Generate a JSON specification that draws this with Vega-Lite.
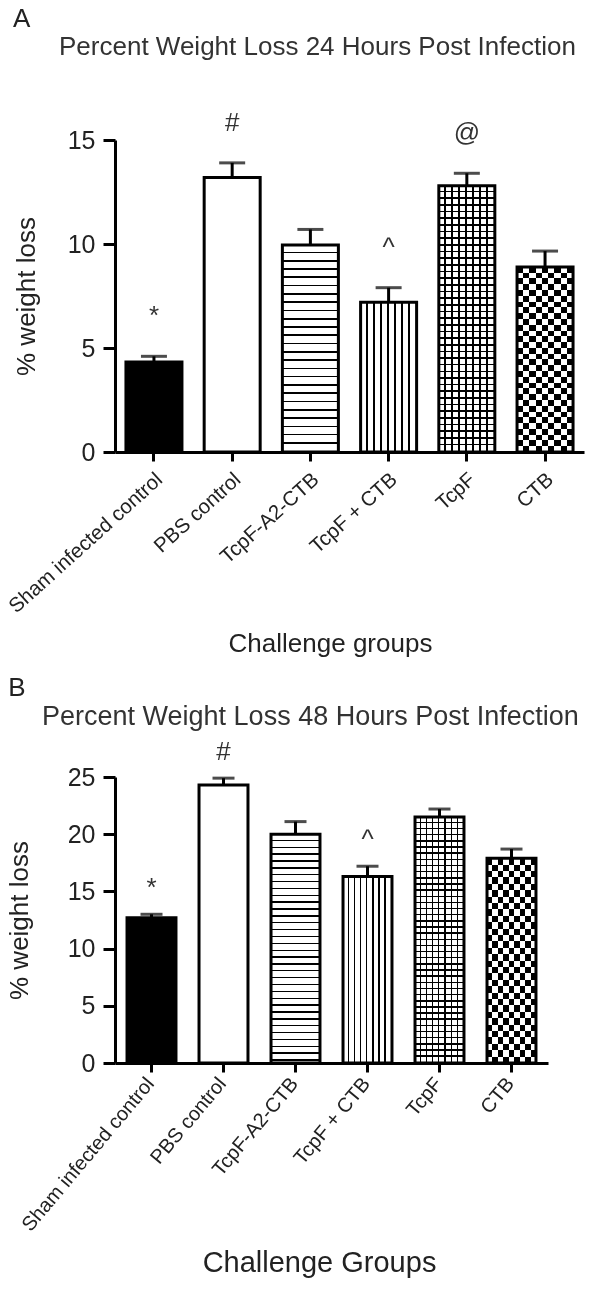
{
"$schema":"https://vega.github.io/schema/vega-lite/v6.json",
"background":"white",
"padding":{"left":5,"top":5,"right":5,"bottom":5},
"config":{"font":"Liberation Sans","view":{"stroke":null},
 "axis":{"domainColor":"black","domainWidth":3,"tickColor":"black","tickWidth":3,"labelColor":"#222","titleColor":"#222","titleFontWeight":"normal","grid":false,"labelFont":"Liberation Sans","titleFont":"Liberation Sans"},
 "axisY":{"tickSize":12,"labelFontSize":25,"titleFontSize":26,"labelPadding":8,"titlePadding":28},
 "axisX":{"tickSize":9,"labelFontSize":20.5,"labelAngle":-42,"titleFontSize":26,"titlePadding":14,"labelPadding":8,"labelOffset":-1,"labelLimit":400}
},
"datasets":{
 "h24":[
  {"group":"Sham infected control","mean":4.33,"upper":4.6,"annot":"*"},
  {"group":"PBS control","mean":13.2,"upper":13.9,"annot":"#"},
  {"group":"TcpF-A2-CTB","mean":9.95,"upper":10.7,"annot":""},
  {"group":"TcpF + CTB","mean":7.2,"upper":7.9,"annot":"^"},
  {"group":"TcpF","mean":12.8,"upper":13.4,"annot":"@"},
  {"group":"CTB","mean":8.9,"upper":9.66,"annot":""}
 ],
 "h48":[
  {"group":"Sham infected control","mean":12.7,"upper":13.0,"annot":"*"},
  {"group":"PBS control","mean":24.3,"upper":24.9,"annot":"#"},
  {"group":"TcpF-A2-CTB","mean":20.0,"upper":21.1,"annot":""},
  {"group":"TcpF + CTB","mean":16.3,"upper":17.2,"annot":"^"},
  {"group":"TcpF","mean":21.5,"upper":22.2,"annot":""},
  {"group":"CTB","mean":17.9,"upper":18.7,"annot":""}
 ]
},
"spacing":18,
"vconcat":[
{
 "title":{"text":"A","anchor":"start","fontSize":26,"fontWeight":"normal","color":"#222","offset":2,"dx":8},
 "vconcat":[{
  "width":469,"height":312,
  "data":{"name":"h24"},
  "title":{"text":"Percent Weight Loss 24 Hours Post Infection","anchor":"start","frame":"group","dx":-56,"fontSize":26,"fontWeight":"normal","color":"#333","offset":50},
  "encoding":{
   "x":{"field":"group","type":"nominal","scale":{"domain":["Sham infected control","PBS control","TcpF-A2-CTB","TcpF + CTB","TcpF","CTB"],"paddingInner":0.284,"paddingOuter":0.14},"axis":{"title":"Challenge groups","titleX":215}},
   "y":{"field":"mean","type":"quantitative","scale":{"domain":[0,15],"nice":false},"axis":{"values":[0,5,10,15]},"title":"% weight loss"}
  },
  "layer":[
   {"mark":{"type":"bar"},"encoding":{"fill":{"condition":{"test":"datum.group === 'Sham infected control'","value":"black"},"value":"white"}}},
   {"transform":[{"filter":"datum.group === 'TcpF-A2-CTB'"}],"mark":{"type":"bar","fill":{"gradient":"linear","x1":0,"y1":0,"x2":0,"y2":1,"stops":[
{"offset":0,"color":"#fff"},{"offset":0.032,"color":"#fff"},{"offset":0.032,"color":"#000"},{"offset":0.04,"color":"#000"},
{"offset":0.04,"color":"#fff"},{"offset":0.072,"color":"#fff"},{"offset":0.072,"color":"#000"},{"offset":0.08,"color":"#000"},
{"offset":0.08,"color":"#fff"},{"offset":0.112,"color":"#fff"},{"offset":0.112,"color":"#000"},{"offset":0.12,"color":"#000"},
{"offset":0.12,"color":"#fff"},{"offset":0.152,"color":"#fff"},{"offset":0.152,"color":"#000"},{"offset":0.16,"color":"#000"},
{"offset":0.16,"color":"#fff"},{"offset":0.192,"color":"#fff"},{"offset":0.192,"color":"#000"},{"offset":0.2,"color":"#000"},
{"offset":0.2,"color":"#fff"},{"offset":0.232,"color":"#fff"},{"offset":0.232,"color":"#000"},{"offset":0.24,"color":"#000"},
{"offset":0.24,"color":"#fff"},{"offset":0.272,"color":"#fff"},{"offset":0.272,"color":"#000"},{"offset":0.28,"color":"#000"},
{"offset":0.28,"color":"#fff"},{"offset":0.312,"color":"#fff"},{"offset":0.312,"color":"#000"},{"offset":0.32,"color":"#000"},
{"offset":0.32,"color":"#fff"},{"offset":0.352,"color":"#fff"},{"offset":0.352,"color":"#000"},{"offset":0.36,"color":"#000"},
{"offset":0.36,"color":"#fff"},{"offset":0.392,"color":"#fff"},{"offset":0.392,"color":"#000"},{"offset":0.4,"color":"#000"},
{"offset":0.4,"color":"#fff"},{"offset":0.432,"color":"#fff"},{"offset":0.432,"color":"#000"},{"offset":0.44,"color":"#000"},
{"offset":0.44,"color":"#fff"},{"offset":0.472,"color":"#fff"},{"offset":0.472,"color":"#000"},{"offset":0.48,"color":"#000"},
{"offset":0.48,"color":"#fff"},{"offset":0.512,"color":"#fff"},{"offset":0.512,"color":"#000"},{"offset":0.52,"color":"#000"},
{"offset":0.52,"color":"#fff"},{"offset":0.552,"color":"#fff"},{"offset":0.552,"color":"#000"},{"offset":0.56,"color":"#000"},
{"offset":0.56,"color":"#fff"},{"offset":0.592,"color":"#fff"},{"offset":0.592,"color":"#000"},{"offset":0.6,"color":"#000"},
{"offset":0.6,"color":"#fff"},{"offset":0.632,"color":"#fff"},{"offset":0.632,"color":"#000"},{"offset":0.64,"color":"#000"},
{"offset":0.64,"color":"#fff"},{"offset":0.672,"color":"#fff"},{"offset":0.672,"color":"#000"},{"offset":0.68,"color":"#000"},
{"offset":0.68,"color":"#fff"},{"offset":0.712,"color":"#fff"},{"offset":0.712,"color":"#000"},{"offset":0.72,"color":"#000"},
{"offset":0.72,"color":"#fff"},{"offset":0.752,"color":"#fff"},{"offset":0.752,"color":"#000"},{"offset":0.76,"color":"#000"},
{"offset":0.76,"color":"#fff"},{"offset":0.792,"color":"#fff"},{"offset":0.792,"color":"#000"},{"offset":0.8,"color":"#000"},
{"offset":0.8,"color":"#fff"},{"offset":0.832,"color":"#fff"},{"offset":0.832,"color":"#000"},{"offset":0.84,"color":"#000"},
{"offset":0.84,"color":"#fff"},{"offset":0.872,"color":"#fff"},{"offset":0.872,"color":"#000"},{"offset":0.88,"color":"#000"},
{"offset":0.88,"color":"#fff"},{"offset":0.912,"color":"#fff"},{"offset":0.912,"color":"#000"},{"offset":0.92,"color":"#000"},
{"offset":0.92,"color":"#fff"},{"offset":0.952,"color":"#fff"},{"offset":0.952,"color":"#000"},{"offset":0.96,"color":"#000"},
{"offset":0.96,"color":"#fff"},{"offset":1,"color":"#fff"}]}}},
   {"transform":[{"filter":"datum.group === 'TcpF + CTB'"}],"mark":{"type":"bar","fill":{"gradient":"linear","x1":0,"y1":0,"x2":1,"y2":0,"stops":[
{"offset":0,"color":"#fff"},{"offset":0.095,"color":"#fff"},{"offset":0.095,"color":"#000"},{"offset":0.125,"color":"#000"},
{"offset":0.125,"color":"#fff"},{"offset":0.22,"color":"#fff"},{"offset":0.22,"color":"#000"},{"offset":0.25,"color":"#000"},
{"offset":0.25,"color":"#fff"},{"offset":0.345,"color":"#fff"},{"offset":0.345,"color":"#000"},{"offset":0.375,"color":"#000"},
{"offset":0.375,"color":"#fff"},{"offset":0.47,"color":"#fff"},{"offset":0.47,"color":"#000"},{"offset":0.5,"color":"#000"},
{"offset":0.5,"color":"#fff"},{"offset":0.595,"color":"#fff"},{"offset":0.595,"color":"#000"},{"offset":0.625,"color":"#000"},
{"offset":0.625,"color":"#fff"},{"offset":0.72,"color":"#fff"},{"offset":0.72,"color":"#000"},{"offset":0.75,"color":"#000"},
{"offset":0.75,"color":"#fff"},{"offset":0.845,"color":"#fff"},{"offset":0.845,"color":"#000"},{"offset":0.875,"color":"#000"},
{"offset":0.875,"color":"#fff"},{"offset":1,"color":"#fff"}]}}},
   {"transform":[{"filter":"datum.group === 'TcpF'"}],"mark":{"type":"bar","fill":{"gradient":"linear","x1":0,"y1":0,"x2":0,"y2":1,"stops":[
{"offset":0,"color":"#fff"},{"offset":0.019,"color":"#fff"},{"offset":0.019,"color":"#000"},{"offset":0.025,"color":"#000"},
{"offset":0.025,"color":"#fff"},{"offset":0.044,"color":"#fff"},{"offset":0.044,"color":"#000"},{"offset":0.05,"color":"#000"},
{"offset":0.05,"color":"#fff"},{"offset":0.069,"color":"#fff"},{"offset":0.069,"color":"#000"},{"offset":0.075,"color":"#000"},
{"offset":0.075,"color":"#fff"},{"offset":0.094,"color":"#fff"},{"offset":0.094,"color":"#000"},{"offset":0.1,"color":"#000"},
{"offset":0.1,"color":"#fff"},{"offset":0.119,"color":"#fff"},{"offset":0.119,"color":"#000"},{"offset":0.125,"color":"#000"},
{"offset":0.125,"color":"#fff"},{"offset":0.144,"color":"#fff"},{"offset":0.144,"color":"#000"},{"offset":0.15,"color":"#000"},
{"offset":0.15,"color":"#fff"},{"offset":0.169,"color":"#fff"},{"offset":0.169,"color":"#000"},{"offset":0.175,"color":"#000"},
{"offset":0.175,"color":"#fff"},{"offset":0.194,"color":"#fff"},{"offset":0.194,"color":"#000"},{"offset":0.2,"color":"#000"},
{"offset":0.2,"color":"#fff"},{"offset":0.219,"color":"#fff"},{"offset":0.219,"color":"#000"},{"offset":0.225,"color":"#000"},
{"offset":0.225,"color":"#fff"},{"offset":0.244,"color":"#fff"},{"offset":0.244,"color":"#000"},{"offset":0.25,"color":"#000"},
{"offset":0.25,"color":"#fff"},{"offset":0.269,"color":"#fff"},{"offset":0.269,"color":"#000"},{"offset":0.275,"color":"#000"},
{"offset":0.275,"color":"#fff"},{"offset":0.294,"color":"#fff"},{"offset":0.294,"color":"#000"},{"offset":0.3,"color":"#000"},
{"offset":0.3,"color":"#fff"},{"offset":0.319,"color":"#fff"},{"offset":0.319,"color":"#000"},{"offset":0.325,"color":"#000"},
{"offset":0.325,"color":"#fff"},{"offset":0.344,"color":"#fff"},{"offset":0.344,"color":"#000"},{"offset":0.35,"color":"#000"},
{"offset":0.35,"color":"#fff"},{"offset":0.369,"color":"#fff"},{"offset":0.369,"color":"#000"},{"offset":0.375,"color":"#000"},
{"offset":0.375,"color":"#fff"},{"offset":0.394,"color":"#fff"},{"offset":0.394,"color":"#000"},{"offset":0.4,"color":"#000"},
{"offset":0.4,"color":"#fff"},{"offset":0.419,"color":"#fff"},{"offset":0.419,"color":"#000"},{"offset":0.425,"color":"#000"},
{"offset":0.425,"color":"#fff"},{"offset":0.444,"color":"#fff"},{"offset":0.444,"color":"#000"},{"offset":0.45,"color":"#000"},
{"offset":0.45,"color":"#fff"},{"offset":0.469,"color":"#fff"},{"offset":0.469,"color":"#000"},{"offset":0.475,"color":"#000"},
{"offset":0.475,"color":"#fff"},{"offset":0.494,"color":"#fff"},{"offset":0.494,"color":"#000"},{"offset":0.5,"color":"#000"},
{"offset":0.5,"color":"#fff"},{"offset":0.519,"color":"#fff"},{"offset":0.519,"color":"#000"},{"offset":0.525,"color":"#000"},
{"offset":0.525,"color":"#fff"},{"offset":0.544,"color":"#fff"},{"offset":0.544,"color":"#000"},{"offset":0.55,"color":"#000"},
{"offset":0.55,"color":"#fff"},{"offset":0.569,"color":"#fff"},{"offset":0.569,"color":"#000"},{"offset":0.575,"color":"#000"},
{"offset":0.575,"color":"#fff"},{"offset":0.594,"color":"#fff"},{"offset":0.594,"color":"#000"},{"offset":0.6,"color":"#000"},
{"offset":0.6,"color":"#fff"},{"offset":0.619,"color":"#fff"},{"offset":0.619,"color":"#000"},{"offset":0.625,"color":"#000"},
{"offset":0.625,"color":"#fff"},{"offset":0.644,"color":"#fff"},{"offset":0.644,"color":"#000"},{"offset":0.65,"color":"#000"},
{"offset":0.65,"color":"#fff"},{"offset":0.669,"color":"#fff"},{"offset":0.669,"color":"#000"},{"offset":0.675,"color":"#000"},
{"offset":0.675,"color":"#fff"},{"offset":0.694,"color":"#fff"},{"offset":0.694,"color":"#000"},{"offset":0.7,"color":"#000"},
{"offset":0.7,"color":"#fff"},{"offset":0.719,"color":"#fff"},{"offset":0.719,"color":"#000"},{"offset":0.725,"color":"#000"},
{"offset":0.725,"color":"#fff"},{"offset":0.744,"color":"#fff"},{"offset":0.744,"color":"#000"},{"offset":0.75,"color":"#000"},
{"offset":0.75,"color":"#fff"},{"offset":0.769,"color":"#fff"},{"offset":0.769,"color":"#000"},{"offset":0.775,"color":"#000"},
{"offset":0.775,"color":"#fff"},{"offset":0.794,"color":"#fff"},{"offset":0.794,"color":"#000"},{"offset":0.8,"color":"#000"},
{"offset":0.8,"color":"#fff"},{"offset":0.819,"color":"#fff"},{"offset":0.819,"color":"#000"},{"offset":0.825,"color":"#000"},
{"offset":0.825,"color":"#fff"},{"offset":0.844,"color":"#fff"},{"offset":0.844,"color":"#000"},{"offset":0.85,"color":"#000"},
{"offset":0.85,"color":"#fff"},{"offset":0.869,"color":"#fff"},{"offset":0.869,"color":"#000"},{"offset":0.875,"color":"#000"},
{"offset":0.875,"color":"#fff"},{"offset":0.894,"color":"#fff"},{"offset":0.894,"color":"#000"},{"offset":0.9,"color":"#000"},
{"offset":0.9,"color":"#fff"},{"offset":0.919,"color":"#fff"},{"offset":0.919,"color":"#000"},{"offset":0.925,"color":"#000"},
{"offset":0.925,"color":"#fff"},{"offset":0.944,"color":"#fff"},{"offset":0.944,"color":"#000"},{"offset":0.95,"color":"#000"},
{"offset":0.95,"color":"#fff"},{"offset":0.969,"color":"#fff"},{"offset":0.969,"color":"#000"},{"offset":0.975,"color":"#000"},
{"offset":0.975,"color":"#fff"},{"offset":1,"color":"#fff"}]}}},
   {"transform":[{"filter":"datum.group === 'TcpF'"}],"mark":{"type":"bar","blend":"multiply","fill":{"gradient":"linear","x1":0,"y1":0,"x2":1,"y2":0,"stops":[
{"offset":0,"color":"#fff"},{"offset":0.1,"color":"#fff"},{"offset":0.1,"color":"#000"},{"offset":0.125,"color":"#000"},
{"offset":0.125,"color":"#fff"},{"offset":0.225,"color":"#fff"},{"offset":0.225,"color":"#000"},{"offset":0.25,"color":"#000"},
{"offset":0.25,"color":"#fff"},{"offset":0.35,"color":"#fff"},{"offset":0.35,"color":"#000"},{"offset":0.375,"color":"#000"},
{"offset":0.375,"color":"#fff"},{"offset":0.475,"color":"#fff"},{"offset":0.475,"color":"#000"},{"offset":0.5,"color":"#000"},
{"offset":0.5,"color":"#fff"},{"offset":0.6,"color":"#fff"},{"offset":0.6,"color":"#000"},{"offset":0.625,"color":"#000"},
{"offset":0.625,"color":"#fff"},{"offset":0.725,"color":"#fff"},{"offset":0.725,"color":"#000"},{"offset":0.75,"color":"#000"},
{"offset":0.75,"color":"#fff"},{"offset":0.85,"color":"#fff"},{"offset":0.85,"color":"#000"},{"offset":0.875,"color":"#000"},
{"offset":0.875,"color":"#fff"},{"offset":1,"color":"#fff"}]}}},
   {"transform":[{"filter":"datum.group === 'CTB'"}],"mark":{"type":"bar","fill":{"gradient":"linear","x1":0,"y1":0,"x2":0,"y2":1,"stops":[
{"offset":0,"color":"#fff"},{"offset":0.03125,"color":"#fff"},{"offset":0.03125,"color":"#000"},{"offset":0.0625,"color":"#000"},
{"offset":0.0625,"color":"#fff"},{"offset":0.09375,"color":"#fff"},{"offset":0.09375,"color":"#000"},{"offset":0.125,"color":"#000"},
{"offset":0.125,"color":"#fff"},{"offset":0.15625,"color":"#fff"},{"offset":0.15625,"color":"#000"},{"offset":0.1875,"color":"#000"},
{"offset":0.1875,"color":"#fff"},{"offset":0.21875,"color":"#fff"},{"offset":0.21875,"color":"#000"},{"offset":0.25,"color":"#000"},
{"offset":0.25,"color":"#fff"},{"offset":0.28125,"color":"#fff"},{"offset":0.28125,"color":"#000"},{"offset":0.3125,"color":"#000"},
{"offset":0.3125,"color":"#fff"},{"offset":0.34375,"color":"#fff"},{"offset":0.34375,"color":"#000"},{"offset":0.375,"color":"#000"},
{"offset":0.375,"color":"#fff"},{"offset":0.40625,"color":"#fff"},{"offset":0.40625,"color":"#000"},{"offset":0.4375,"color":"#000"},
{"offset":0.4375,"color":"#fff"},{"offset":0.46875,"color":"#fff"},{"offset":0.46875,"color":"#000"},{"offset":0.5,"color":"#000"},
{"offset":0.5,"color":"#fff"},{"offset":0.53125,"color":"#fff"},{"offset":0.53125,"color":"#000"},{"offset":0.5625,"color":"#000"},
{"offset":0.5625,"color":"#fff"},{"offset":0.59375,"color":"#fff"},{"offset":0.59375,"color":"#000"},{"offset":0.625,"color":"#000"},
{"offset":0.625,"color":"#fff"},{"offset":0.65625,"color":"#fff"},{"offset":0.65625,"color":"#000"},{"offset":0.6875,"color":"#000"},
{"offset":0.6875,"color":"#fff"},{"offset":0.71875,"color":"#fff"},{"offset":0.71875,"color":"#000"},{"offset":0.75,"color":"#000"},
{"offset":0.75,"color":"#fff"},{"offset":0.78125,"color":"#fff"},{"offset":0.78125,"color":"#000"},{"offset":0.8125,"color":"#000"},
{"offset":0.8125,"color":"#fff"},{"offset":0.84375,"color":"#fff"},{"offset":0.84375,"color":"#000"},{"offset":0.875,"color":"#000"},
{"offset":0.875,"color":"#fff"},{"offset":0.90625,"color":"#fff"},{"offset":0.90625,"color":"#000"},{"offset":0.9375,"color":"#000"},
{"offset":0.9375,"color":"#fff"},{"offset":0.96875,"color":"#fff"},{"offset":0.96875,"color":"#000"},{"offset":1,"color":"#000"}]}}},
   {"transform":[{"filter":"datum.group === 'CTB'"}],"mark":{"type":"bar","blend":"difference","fill":{"gradient":"linear","x1":0,"y1":0,"x2":1,"y2":0,"stops":[
{"offset":0,"color":"#fff"},{"offset":0.1111,"color":"#fff"},{"offset":0.1111,"color":"#000"},{"offset":0.2222,"color":"#000"},
{"offset":0.2222,"color":"#fff"},{"offset":0.3333,"color":"#fff"},{"offset":0.3333,"color":"#000"},{"offset":0.4444,"color":"#000"},
{"offset":0.4444,"color":"#fff"},{"offset":0.5556,"color":"#fff"},{"offset":0.5556,"color":"#000"},{"offset":0.6667,"color":"#000"},
{"offset":0.6667,"color":"#fff"},{"offset":0.7778,"color":"#fff"},{"offset":0.7778,"color":"#000"},{"offset":0.8889,"color":"#000"},
{"offset":0.8889,"color":"#fff"},{"offset":1,"color":"#fff"}]}}},
   {"mark":{"type":"bar","fillOpacity":0,"stroke":"black","strokeWidth":3}},
   {"mark":{"type":"rule","color":"black","strokeWidth":3},"encoding":{"y":{"field":"mean","type":"quantitative","title":"% weight loss"},"y2":{"field":"upper"}}},
   {"mark":{"type":"tick","color":"black","thickness":3,"size":26},"encoding":{"y":{"field":"upper","type":"quantitative","title":"% weight loss"}}},
   {"mark":{"type":"text","fontSize":26,"color":"#333","dy":-32,"baseline":"alphabetic"},"encoding":{"y":{"field":"upper","type":"quantitative","title":"% weight loss"},"text":{"field":"annot"}}}
  ]
 }]
},
{
 "title":{"text":"B","anchor":"start","fontSize":26,"fontWeight":"normal","color":"#222","offset":2,"dx":2},
 "vconcat":[{
  "width":433,"height":286,
  "data":{"name":"h48"},
  "title":{"text":"Percent Weight Loss 48 Hours Post Infection","anchor":"start","frame":"group","dx":-73,"fontSize":27,"fontWeight":"normal","color":"#333","offset":8},
  "encoding":{
   "x":{"field":"group","type":"nominal","scale":{"domain":["Sham infected control","PBS control","TcpF-A2-CTB","TcpF + CTB","TcpF","CTB"],"paddingInner":0.32,"paddingOuter":0.167},"axis":{"title":"Challenge Groups","titleX":204,"titleFontSize":29,"labelAngle":-50,"labelFontSize":20}},
   "y":{"field":"mean","type":"quantitative","scale":{"domain":[0,25],"nice":false},"axis":{"values":[0,5,10,15,20,25],"titlePadding":35},"title":"% weight loss"}
  },
  "layer":[
   {"mark":{"type":"bar"},"encoding":{"fill":{"condition":{"test":"datum.group === 'Sham infected control'","value":"black"},"value":"white"}}},
   {"transform":[{"filter":"datum.group === 'TcpF-A2-CTB'"}],"mark":{"type":"bar","fill":{"gradient":"linear","x1":0,"y1":0,"x2":0,"y2":1,"stops":[
{"offset":0,"color":"#fff"},{"offset":0.024,"color":"#fff"},{"offset":0.024,"color":"#000"},{"offset":0.03,"color":"#000"},
{"offset":0.03,"color":"#fff"},{"offset":0.054,"color":"#fff"},{"offset":0.054,"color":"#000"},{"offset":0.06,"color":"#000"},
{"offset":0.06,"color":"#fff"},{"offset":0.084,"color":"#fff"},{"offset":0.084,"color":"#000"},{"offset":0.09,"color":"#000"},
{"offset":0.09,"color":"#fff"},{"offset":0.114,"color":"#fff"},{"offset":0.114,"color":"#000"},{"offset":0.12,"color":"#000"},
{"offset":0.12,"color":"#fff"},{"offset":0.144,"color":"#fff"},{"offset":0.144,"color":"#000"},{"offset":0.15,"color":"#000"},
{"offset":0.15,"color":"#fff"},{"offset":0.174,"color":"#fff"},{"offset":0.174,"color":"#000"},{"offset":0.18,"color":"#000"},
{"offset":0.18,"color":"#fff"},{"offset":0.204,"color":"#fff"},{"offset":0.204,"color":"#000"},{"offset":0.21,"color":"#000"},
{"offset":0.21,"color":"#fff"},{"offset":0.234,"color":"#fff"},{"offset":0.234,"color":"#000"},{"offset":0.24,"color":"#000"},
{"offset":0.24,"color":"#fff"},{"offset":0.264,"color":"#fff"},{"offset":0.264,"color":"#000"},{"offset":0.27,"color":"#000"},
{"offset":0.27,"color":"#fff"},{"offset":0.294,"color":"#fff"},{"offset":0.294,"color":"#000"},{"offset":0.3,"color":"#000"},
{"offset":0.3,"color":"#fff"},{"offset":0.324,"color":"#fff"},{"offset":0.324,"color":"#000"},{"offset":0.33,"color":"#000"},
{"offset":0.33,"color":"#fff"},{"offset":0.354,"color":"#fff"},{"offset":0.354,"color":"#000"},{"offset":0.36,"color":"#000"},
{"offset":0.36,"color":"#fff"},{"offset":0.384,"color":"#fff"},{"offset":0.384,"color":"#000"},{"offset":0.39,"color":"#000"},
{"offset":0.39,"color":"#fff"},{"offset":0.414,"color":"#fff"},{"offset":0.414,"color":"#000"},{"offset":0.42,"color":"#000"},
{"offset":0.42,"color":"#fff"},{"offset":0.444,"color":"#fff"},{"offset":0.444,"color":"#000"},{"offset":0.45,"color":"#000"},
{"offset":0.45,"color":"#fff"},{"offset":0.474,"color":"#fff"},{"offset":0.474,"color":"#000"},{"offset":0.48,"color":"#000"},
{"offset":0.48,"color":"#fff"},{"offset":0.504,"color":"#fff"},{"offset":0.504,"color":"#000"},{"offset":0.51,"color":"#000"},
{"offset":0.51,"color":"#fff"},{"offset":0.534,"color":"#fff"},{"offset":0.534,"color":"#000"},{"offset":0.54,"color":"#000"},
{"offset":0.54,"color":"#fff"},{"offset":0.564,"color":"#fff"},{"offset":0.564,"color":"#000"},{"offset":0.57,"color":"#000"},
{"offset":0.57,"color":"#fff"},{"offset":0.594,"color":"#fff"},{"offset":0.594,"color":"#000"},{"offset":0.6,"color":"#000"},
{"offset":0.6,"color":"#fff"},{"offset":0.624,"color":"#fff"},{"offset":0.624,"color":"#000"},{"offset":0.63,"color":"#000"},
{"offset":0.63,"color":"#fff"},{"offset":0.654,"color":"#fff"},{"offset":0.654,"color":"#000"},{"offset":0.66,"color":"#000"},
{"offset":0.66,"color":"#fff"},{"offset":0.684,"color":"#fff"},{"offset":0.684,"color":"#000"},{"offset":0.69,"color":"#000"},
{"offset":0.69,"color":"#fff"},{"offset":0.714,"color":"#fff"},{"offset":0.714,"color":"#000"},{"offset":0.72,"color":"#000"},
{"offset":0.72,"color":"#fff"},{"offset":0.744,"color":"#fff"},{"offset":0.744,"color":"#000"},{"offset":0.75,"color":"#000"},
{"offset":0.75,"color":"#fff"},{"offset":0.774,"color":"#fff"},{"offset":0.774,"color":"#000"},{"offset":0.78,"color":"#000"},
{"offset":0.78,"color":"#fff"},{"offset":0.804,"color":"#fff"},{"offset":0.804,"color":"#000"},{"offset":0.81,"color":"#000"},
{"offset":0.81,"color":"#fff"},{"offset":0.834,"color":"#fff"},{"offset":0.834,"color":"#000"},{"offset":0.84,"color":"#000"},
{"offset":0.84,"color":"#fff"},{"offset":0.864,"color":"#fff"},{"offset":0.864,"color":"#000"},{"offset":0.87,"color":"#000"},
{"offset":0.87,"color":"#fff"},{"offset":0.894,"color":"#fff"},{"offset":0.894,"color":"#000"},{"offset":0.9,"color":"#000"},
{"offset":0.9,"color":"#fff"},{"offset":0.924,"color":"#fff"},{"offset":0.924,"color":"#000"},{"offset":0.93,"color":"#000"},
{"offset":0.93,"color":"#fff"},{"offset":0.954,"color":"#fff"},{"offset":0.954,"color":"#000"},{"offset":0.96,"color":"#000"},
{"offset":0.96,"color":"#fff"},{"offset":0.984,"color":"#fff"},{"offset":0.984,"color":"#000"},{"offset":0.99,"color":"#000"},
{"offset":0.99,"color":"#fff"},{"offset":1,"color":"#fff"}]}}},
   {"transform":[{"filter":"datum.group === 'TcpF + CTB'"}],"mark":{"type":"bar","fill":{"gradient":"linear","x1":0,"y1":0,"x2":1,"y2":0,"stops":[
{"offset":0,"color":"#fff"},{"offset":0.095,"color":"#fff"},{"offset":0.095,"color":"#000"},{"offset":0.125,"color":"#000"},
{"offset":0.125,"color":"#fff"},{"offset":0.22,"color":"#fff"},{"offset":0.22,"color":"#000"},{"offset":0.25,"color":"#000"},
{"offset":0.25,"color":"#fff"},{"offset":0.345,"color":"#fff"},{"offset":0.345,"color":"#000"},{"offset":0.375,"color":"#000"},
{"offset":0.375,"color":"#fff"},{"offset":0.47,"color":"#fff"},{"offset":0.47,"color":"#000"},{"offset":0.5,"color":"#000"},
{"offset":0.5,"color":"#fff"},{"offset":0.595,"color":"#fff"},{"offset":0.595,"color":"#000"},{"offset":0.625,"color":"#000"},
{"offset":0.625,"color":"#fff"},{"offset":0.72,"color":"#fff"},{"offset":0.72,"color":"#000"},{"offset":0.75,"color":"#000"},
{"offset":0.75,"color":"#fff"},{"offset":0.845,"color":"#fff"},{"offset":0.845,"color":"#000"},{"offset":0.875,"color":"#000"},
{"offset":0.875,"color":"#fff"},{"offset":1,"color":"#fff"}]}}},
   {"transform":[{"filter":"datum.group === 'TcpF'"}],"mark":{"type":"bar","fill":{"gradient":"linear","x1":0,"y1":0,"x2":0,"y2":1,"stops":[
{"offset":0,"color":"#fff"},{"offset":0.019,"color":"#fff"},{"offset":0.019,"color":"#000"},{"offset":0.025,"color":"#000"},
{"offset":0.025,"color":"#fff"},{"offset":0.044,"color":"#fff"},{"offset":0.044,"color":"#000"},{"offset":0.05,"color":"#000"},
{"offset":0.05,"color":"#fff"},{"offset":0.069,"color":"#fff"},{"offset":0.069,"color":"#000"},{"offset":0.075,"color":"#000"},
{"offset":0.075,"color":"#fff"},{"offset":0.094,"color":"#fff"},{"offset":0.094,"color":"#000"},{"offset":0.1,"color":"#000"},
{"offset":0.1,"color":"#fff"},{"offset":0.119,"color":"#fff"},{"offset":0.119,"color":"#000"},{"offset":0.125,"color":"#000"},
{"offset":0.125,"color":"#fff"},{"offset":0.144,"color":"#fff"},{"offset":0.144,"color":"#000"},{"offset":0.15,"color":"#000"},
{"offset":0.15,"color":"#fff"},{"offset":0.169,"color":"#fff"},{"offset":0.169,"color":"#000"},{"offset":0.175,"color":"#000"},
{"offset":0.175,"color":"#fff"},{"offset":0.194,"color":"#fff"},{"offset":0.194,"color":"#000"},{"offset":0.2,"color":"#000"},
{"offset":0.2,"color":"#fff"},{"offset":0.219,"color":"#fff"},{"offset":0.219,"color":"#000"},{"offset":0.225,"color":"#000"},
{"offset":0.225,"color":"#fff"},{"offset":0.244,"color":"#fff"},{"offset":0.244,"color":"#000"},{"offset":0.25,"color":"#000"},
{"offset":0.25,"color":"#fff"},{"offset":0.269,"color":"#fff"},{"offset":0.269,"color":"#000"},{"offset":0.275,"color":"#000"},
{"offset":0.275,"color":"#fff"},{"offset":0.294,"color":"#fff"},{"offset":0.294,"color":"#000"},{"offset":0.3,"color":"#000"},
{"offset":0.3,"color":"#fff"},{"offset":0.319,"color":"#fff"},{"offset":0.319,"color":"#000"},{"offset":0.325,"color":"#000"},
{"offset":0.325,"color":"#fff"},{"offset":0.344,"color":"#fff"},{"offset":0.344,"color":"#000"},{"offset":0.35,"color":"#000"},
{"offset":0.35,"color":"#fff"},{"offset":0.369,"color":"#fff"},{"offset":0.369,"color":"#000"},{"offset":0.375,"color":"#000"},
{"offset":0.375,"color":"#fff"},{"offset":0.394,"color":"#fff"},{"offset":0.394,"color":"#000"},{"offset":0.4,"color":"#000"},
{"offset":0.4,"color":"#fff"},{"offset":0.419,"color":"#fff"},{"offset":0.419,"color":"#000"},{"offset":0.425,"color":"#000"},
{"offset":0.425,"color":"#fff"},{"offset":0.444,"color":"#fff"},{"offset":0.444,"color":"#000"},{"offset":0.45,"color":"#000"},
{"offset":0.45,"color":"#fff"},{"offset":0.469,"color":"#fff"},{"offset":0.469,"color":"#000"},{"offset":0.475,"color":"#000"},
{"offset":0.475,"color":"#fff"},{"offset":0.494,"color":"#fff"},{"offset":0.494,"color":"#000"},{"offset":0.5,"color":"#000"},
{"offset":0.5,"color":"#fff"},{"offset":0.519,"color":"#fff"},{"offset":0.519,"color":"#000"},{"offset":0.525,"color":"#000"},
{"offset":0.525,"color":"#fff"},{"offset":0.544,"color":"#fff"},{"offset":0.544,"color":"#000"},{"offset":0.55,"color":"#000"},
{"offset":0.55,"color":"#fff"},{"offset":0.569,"color":"#fff"},{"offset":0.569,"color":"#000"},{"offset":0.575,"color":"#000"},
{"offset":0.575,"color":"#fff"},{"offset":0.594,"color":"#fff"},{"offset":0.594,"color":"#000"},{"offset":0.6,"color":"#000"},
{"offset":0.6,"color":"#fff"},{"offset":0.619,"color":"#fff"},{"offset":0.619,"color":"#000"},{"offset":0.625,"color":"#000"},
{"offset":0.625,"color":"#fff"},{"offset":0.644,"color":"#fff"},{"offset":0.644,"color":"#000"},{"offset":0.65,"color":"#000"},
{"offset":0.65,"color":"#fff"},{"offset":0.669,"color":"#fff"},{"offset":0.669,"color":"#000"},{"offset":0.675,"color":"#000"},
{"offset":0.675,"color":"#fff"},{"offset":0.694,"color":"#fff"},{"offset":0.694,"color":"#000"},{"offset":0.7,"color":"#000"},
{"offset":0.7,"color":"#fff"},{"offset":0.719,"color":"#fff"},{"offset":0.719,"color":"#000"},{"offset":0.725,"color":"#000"},
{"offset":0.725,"color":"#fff"},{"offset":0.744,"color":"#fff"},{"offset":0.744,"color":"#000"},{"offset":0.75,"color":"#000"},
{"offset":0.75,"color":"#fff"},{"offset":0.769,"color":"#fff"},{"offset":0.769,"color":"#000"},{"offset":0.775,"color":"#000"},
{"offset":0.775,"color":"#fff"},{"offset":0.794,"color":"#fff"},{"offset":0.794,"color":"#000"},{"offset":0.8,"color":"#000"},
{"offset":0.8,"color":"#fff"},{"offset":0.819,"color":"#fff"},{"offset":0.819,"color":"#000"},{"offset":0.825,"color":"#000"},
{"offset":0.825,"color":"#fff"},{"offset":0.844,"color":"#fff"},{"offset":0.844,"color":"#000"},{"offset":0.85,"color":"#000"},
{"offset":0.85,"color":"#fff"},{"offset":0.869,"color":"#fff"},{"offset":0.869,"color":"#000"},{"offset":0.875,"color":"#000"},
{"offset":0.875,"color":"#fff"},{"offset":0.894,"color":"#fff"},{"offset":0.894,"color":"#000"},{"offset":0.9,"color":"#000"},
{"offset":0.9,"color":"#fff"},{"offset":0.919,"color":"#fff"},{"offset":0.919,"color":"#000"},{"offset":0.925,"color":"#000"},
{"offset":0.925,"color":"#fff"},{"offset":0.944,"color":"#fff"},{"offset":0.944,"color":"#000"},{"offset":0.95,"color":"#000"},
{"offset":0.95,"color":"#fff"},{"offset":0.969,"color":"#fff"},{"offset":0.969,"color":"#000"},{"offset":0.975,"color":"#000"},
{"offset":0.975,"color":"#fff"},{"offset":1,"color":"#fff"}]}}},
   {"transform":[{"filter":"datum.group === 'TcpF'"}],"mark":{"type":"bar","blend":"multiply","fill":{"gradient":"linear","x1":0,"y1":0,"x2":1,"y2":0,"stops":[
{"offset":0,"color":"#fff"},{"offset":0.1,"color":"#fff"},{"offset":0.1,"color":"#000"},{"offset":0.125,"color":"#000"},
{"offset":0.125,"color":"#fff"},{"offset":0.225,"color":"#fff"},{"offset":0.225,"color":"#000"},{"offset":0.25,"color":"#000"},
{"offset":0.25,"color":"#fff"},{"offset":0.35,"color":"#fff"},{"offset":0.35,"color":"#000"},{"offset":0.375,"color":"#000"},
{"offset":0.375,"color":"#fff"},{"offset":0.475,"color":"#fff"},{"offset":0.475,"color":"#000"},{"offset":0.5,"color":"#000"},
{"offset":0.5,"color":"#fff"},{"offset":0.6,"color":"#fff"},{"offset":0.6,"color":"#000"},{"offset":0.625,"color":"#000"},
{"offset":0.625,"color":"#fff"},{"offset":0.725,"color":"#fff"},{"offset":0.725,"color":"#000"},{"offset":0.75,"color":"#000"},
{"offset":0.75,"color":"#fff"},{"offset":0.85,"color":"#fff"},{"offset":0.85,"color":"#000"},{"offset":0.875,"color":"#000"},
{"offset":0.875,"color":"#fff"},{"offset":1,"color":"#fff"}]}}},
   {"transform":[{"filter":"datum.group === 'CTB'"}],"mark":{"type":"bar","fill":{"gradient":"linear","x1":0,"y1":0,"x2":0,"y2":1,"stops":[
{"offset":0,"color":"#fff"},{"offset":0.03125,"color":"#fff"},{"offset":0.03125,"color":"#000"},{"offset":0.0625,"color":"#000"},
{"offset":0.0625,"color":"#fff"},{"offset":0.09375,"color":"#fff"},{"offset":0.09375,"color":"#000"},{"offset":0.125,"color":"#000"},
{"offset":0.125,"color":"#fff"},{"offset":0.15625,"color":"#fff"},{"offset":0.15625,"color":"#000"},{"offset":0.1875,"color":"#000"},
{"offset":0.1875,"color":"#fff"},{"offset":0.21875,"color":"#fff"},{"offset":0.21875,"color":"#000"},{"offset":0.25,"color":"#000"},
{"offset":0.25,"color":"#fff"},{"offset":0.28125,"color":"#fff"},{"offset":0.28125,"color":"#000"},{"offset":0.3125,"color":"#000"},
{"offset":0.3125,"color":"#fff"},{"offset":0.34375,"color":"#fff"},{"offset":0.34375,"color":"#000"},{"offset":0.375,"color":"#000"},
{"offset":0.375,"color":"#fff"},{"offset":0.40625,"color":"#fff"},{"offset":0.40625,"color":"#000"},{"offset":0.4375,"color":"#000"},
{"offset":0.4375,"color":"#fff"},{"offset":0.46875,"color":"#fff"},{"offset":0.46875,"color":"#000"},{"offset":0.5,"color":"#000"},
{"offset":0.5,"color":"#fff"},{"offset":0.53125,"color":"#fff"},{"offset":0.53125,"color":"#000"},{"offset":0.5625,"color":"#000"},
{"offset":0.5625,"color":"#fff"},{"offset":0.59375,"color":"#fff"},{"offset":0.59375,"color":"#000"},{"offset":0.625,"color":"#000"},
{"offset":0.625,"color":"#fff"},{"offset":0.65625,"color":"#fff"},{"offset":0.65625,"color":"#000"},{"offset":0.6875,"color":"#000"},
{"offset":0.6875,"color":"#fff"},{"offset":0.71875,"color":"#fff"},{"offset":0.71875,"color":"#000"},{"offset":0.75,"color":"#000"},
{"offset":0.75,"color":"#fff"},{"offset":0.78125,"color":"#fff"},{"offset":0.78125,"color":"#000"},{"offset":0.8125,"color":"#000"},
{"offset":0.8125,"color":"#fff"},{"offset":0.84375,"color":"#fff"},{"offset":0.84375,"color":"#000"},{"offset":0.875,"color":"#000"},
{"offset":0.875,"color":"#fff"},{"offset":0.90625,"color":"#fff"},{"offset":0.90625,"color":"#000"},{"offset":0.9375,"color":"#000"},
{"offset":0.9375,"color":"#fff"},{"offset":0.96875,"color":"#fff"},{"offset":0.96875,"color":"#000"},{"offset":1,"color":"#000"}]}}},
   {"transform":[{"filter":"datum.group === 'CTB'"}],"mark":{"type":"bar","blend":"difference","fill":{"gradient":"linear","x1":0,"y1":0,"x2":1,"y2":0,"stops":[
{"offset":0,"color":"#fff"},{"offset":0.1111,"color":"#fff"},{"offset":0.1111,"color":"#000"},{"offset":0.2222,"color":"#000"},
{"offset":0.2222,"color":"#fff"},{"offset":0.3333,"color":"#fff"},{"offset":0.3333,"color":"#000"},{"offset":0.4444,"color":"#000"},
{"offset":0.4444,"color":"#fff"},{"offset":0.5556,"color":"#fff"},{"offset":0.5556,"color":"#000"},{"offset":0.6667,"color":"#000"},
{"offset":0.6667,"color":"#fff"},{"offset":0.7778,"color":"#fff"},{"offset":0.7778,"color":"#000"},{"offset":0.8889,"color":"#000"},
{"offset":0.8889,"color":"#fff"},{"offset":1,"color":"#fff"}]}}},
   {"mark":{"type":"bar","fillOpacity":0,"stroke":"black","strokeWidth":3}},
   {"mark":{"type":"rule","color":"black","strokeWidth":3},"encoding":{"y":{"field":"mean","type":"quantitative","title":"% weight loss"},"y2":{"field":"upper"}}},
   {"mark":{"type":"tick","color":"black","thickness":3,"size":22},"encoding":{"y":{"field":"upper","type":"quantitative","title":"% weight loss"}}},
   {"mark":{"type":"text","fontSize":26,"color":"#333","dy":-18,"baseline":"alphabetic"},"encoding":{"y":{"field":"upper","type":"quantitative","title":"% weight loss"},"text":{"field":"annot"}}}
  ]
 }]
}
]
}
